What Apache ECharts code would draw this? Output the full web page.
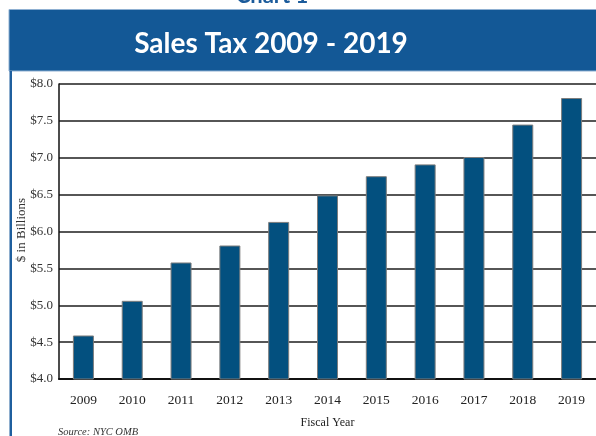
<!DOCTYPE html>
<html>
<head>
<meta charset="utf-8">
<script src="https://cdn.jsdelivr.net/npm/echarts@6/dist/echarts.min.js"></script>
<style>
html,body{margin:0;padding:0;background:#fff;}
#chart{width:596px;height:436px;}
</style>
</head>
<body>
<div id="chart"></div>
<script>
var years = ['2009','2010','2011','2012','2013','2014','2015','2016','2017','2018','2019'];
var salesTax = [4.59, 5.06, 5.58, 5.81, 6.13, 6.49, 6.75, 6.91, 7.01, 7.45, 7.81];
var yTicks = [4.0, 4.5, 5.0, 5.5, 6.0, 6.5, 7.0, 7.5, 8.0];
var titleText = 'Sales Tax 2009 - 2019';
var chartLabel = 'Chart 1';
var yAxisTitle = '$ in Billions';
var xAxisTitle = 'Fiscal Year';
var sourceText = 'Source: NYC OMB';

var serif = '"Liberation Serif", "DejaVu Serif", serif';
var chart = echarts.init(document.getElementById('chart'));
chart.setOption({
  animation: false,
  backgroundColor: '#ffffff',
  grid: { left: 59, right: -2, top: 84, bottom: 57, containLabel: false },
  xAxis: {
    type: 'category',
    data: years,
    axisLine: { show: true, lineStyle: { color: '#111', width: 2 } },
    axisTick: { show: false },
    axisLabel: { color: '#222', fontFamily: serif, fontSize: 13.5, margin: 14 },
    name: xAxisTitle,
    nameLocation: 'middle',
    nameGap: 38,
    nameTextStyle: { color: '#222', fontFamily: serif, fontSize: 12 }
  },
  yAxis: {
    type: 'value',
    min: yTicks[0],
    max: yTicks[yTicks.length - 1],
    interval: 0.5,
    axisLine: { show: true, lineStyle: { color: '#111', width: 1.5 } },
    axisTick: { show: false },
    axisLabel: {
      color: '#333', fontFamily: serif, fontSize: 13, margin: 6,
      formatter: function (v) { return '$' + v.toFixed(1); }
    },
    splitLine: { show: true, lineStyle: { color: '#1e1e1e', width: 1.6 } }
  },
  series: [{
    type: 'bar',
    data: salesTax,
    barWidth: 21,
    itemStyle: { color: '#03507f', borderColor: '#7d7d7d', borderWidth: 1 }
  }],
  graphic: [
    { type: 'text', x: 272, y: -15, z: 10,
      style: { text: chartLabel, fill: '#1b5b9b', font: 'bold 22px "Lato", sans-serif', textAlign: 'center', textVerticalAlign: 'top' } },
    { type: 'rect', shape: { x: 9, y: 9.5, width: 600, height: 61.5 },
      style: { fill: '#135896', stroke: '#8fb0d2', lineWidth: 1 }, z: 5 },
    { type: 'rect', shape: { x: 9.5, y: 71, width: 2.5, height: 370 },
      style: { fill: '#1f5f9e' }, z: 5 },
    { type: 'text', x: 271, y: 44, z: 10,
      style: { text: titleText, fill: '#ffffff', font: 'bold 28px "Lato", sans-serif', textAlign: 'center', textVerticalAlign: 'middle' } },
    { type: 'text', x: 21.5, y: 230, rotation: Math.PI / 2, z: 10,
      style: { text: yAxisTitle, fill: '#333', font: '13px ' + serif, textAlign: 'center', textVerticalAlign: 'middle' } },
    { type: 'text', x: 58, y: 432, z: 10,
      style: { text: sourceText, fill: '#333', font: 'italic 10.5px ' + serif, textAlign: 'left', textVerticalAlign: 'middle' } }
  ]
});
</script>
</body>
</html>
